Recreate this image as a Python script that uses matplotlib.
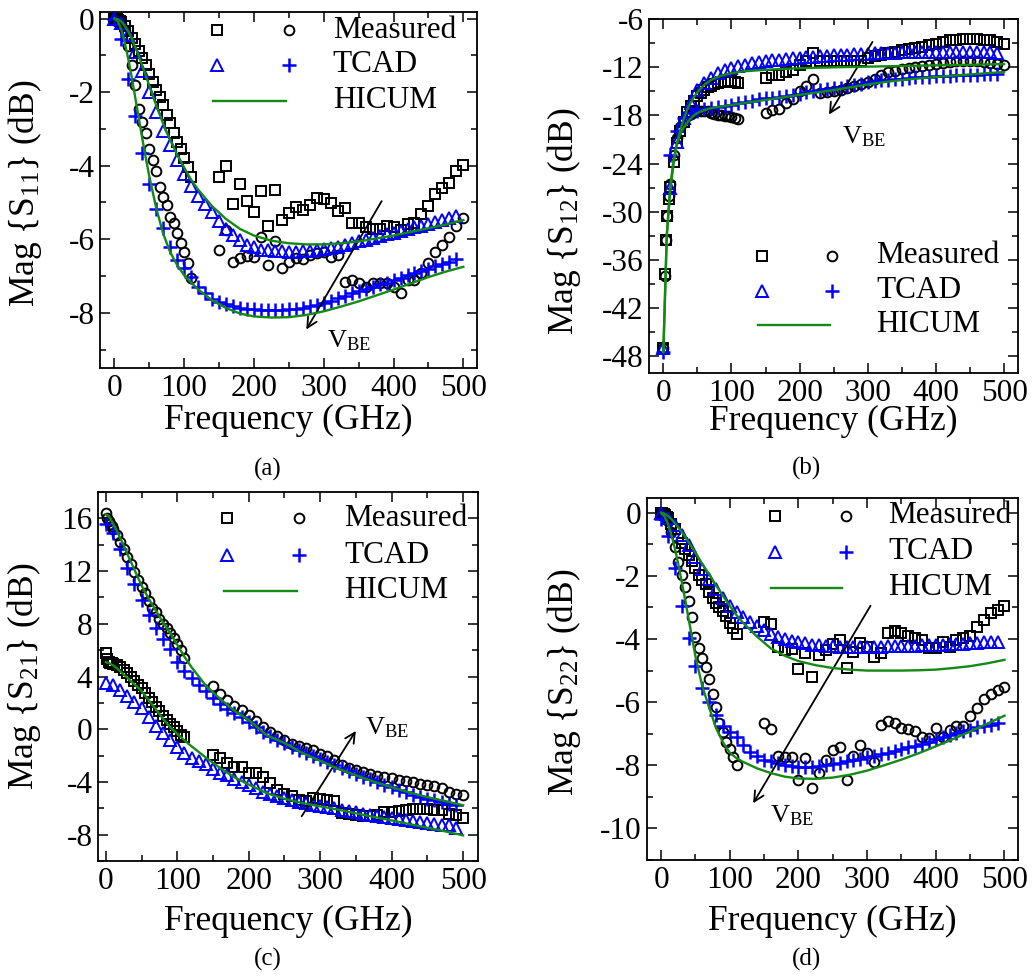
import numpy as np
import matplotlib
matplotlib.use("Agg")
import matplotlib.pyplot as plt
from matplotlib.ticker import MultipleLocator

plt.rcParams['font.family'] = ['Liberation Serif', 'DejaVu Serif']
plt.rcParams['mathtext.fontset'] = 'custom'
plt.rcParams['mathtext.rm'] = 'Liberation Serif'
plt.rcParams['mathtext.it'] = 'Liberation Serif:italic'
plt.rcParams['axes.unicode_minus'] = False

# frequency grids (GHz)
f_meas_lo = [0, 2, 4, 6, 8, 10, 15, 20, 25, 30, 35, 40, 45, 50, 55, 60, 65, 70, 75, 80,
             85, 90, 95, 100, 105, 110]
f_meas_hi = list(range(150, 510, 10))
f_tcad = list(range(0, 500, 10))
f_hicum = [0, 5, 10, 15, 20, 25, 30, 35, 40, 45, 50, 60, 70, 80, 90, 100, 110, 120,
           140, 160, 180, 200, 225, 250, 275, 300, 325, 350, 375, 400, 425, 450, 475, 500]

# ---- (a) S11 ----
a_sq_lo = [0, -0.01, -0.02, -0.04, -0.07, -0.1, -0.2, -0.33, -0.52, -0.7, -0.88, -1.07, -1.25,
           -1.5, -1.72, -1.93, -2.12, -2.35, -2.63, -2.85, -3.1, -3.35, -3.55, -3.8, -4.05, -4.3]
a_ci_lo = [0, -0.02, -0.04, -0.08, -0.12, -0.15, -0.35, -0.75, -1.25, -1.8, -2.45, -2.8, -3.1,
           -3.55, -3.85, -4.15, -4.58, -4.85, -5.07, -5.39, -5.56, -5.82, -6.1, -6.35, -6.65, -7.05]
a_sq_hi = [-4.30, -4.01, -5.04, -4.50, -4.95, -5.25, -4.68, -5.64, -4.67, -5.48,
           -5.28, -5.12, -5.21, -5.07, -4.89, -4.92, -5.01, -5.23, -5.16, -5.55,
           -5.57, -5.66, -5.73, -5.73, -5.64, -5.68, -5.75, -5.59, -5.55, -5.32,
           -5.10, -4.77, -4.61, -4.47, -4.14, -3.99]
a_ci_hi = [-6.28, -5.75, -6.61, -6.5, -6.46, -6.48, -5.95, -6.70, -6.04, -6.79,
           -6.61, -6.52, -6.55, -6.42, -6.38, -6.35, -6.49, -6.43, -7.16, -7.11,
           -7.20, -7.31, -7.20, -7.18, -7.20, -7.31, -7.47, -7.11, -7.11, -6.93,
           -6.66, -6.34, -6.16, -5.95, -5.64, -5.43]
a_tcad_A = [0, -0.12, -0.45, -0.90, -1.42, -2.00, -2.55, -3.05, -3.45, -3.85,
            -4.23, -4.55, -4.83, -5.05, -5.26, -5.50, -5.72, -5.88, -6.02, -6.16,
            -6.22, -6.28, -6.30, -6.32, -6.33, -6.34, -6.34, -6.33, -6.32, -6.30,
            -6.27, -6.24, -6.20, -6.16, -6.11, -6.06, -6.02, -5.97, -5.92, -5.87,
            -5.82, -5.77, -5.72, -5.68, -5.63, -5.58, -5.53, -5.48, -5.43, -5.37]
a_tcad_B = [0, -0.55, -1.65, -2.65, -3.65, -4.50, -5.18, -5.70, -6.20, -6.57,
            -6.78, -7.04, -7.30, -7.47, -7.62, -7.71, -7.77, -7.82, -7.86, -7.89,
            -7.91, -7.92, -7.93, -7.93, -7.92, -7.91, -7.89, -7.86, -7.82, -7.78,
            -7.74, -7.68, -7.61, -7.54, -7.47, -7.41, -7.35, -7.29, -7.23, -7.18,
            -7.12, -7.05, -6.98, -6.92, -6.86, -6.80, -6.73, -6.67, -6.61, -6.55]
a_hicum_A = [0, -0.02, -0.08, -0.2, -0.35, -0.55, -0.78, -1.02, -1.28, -1.55, -1.82,
             -2.36, -2.86, -3.30, -3.70, -4.05, -4.38, -4.65, -5.10, -5.45, -5.72, -5.90,
             -6.04, -6.11, -6.14, -6.14, -6.11, -6.06, -5.98, -5.90, -5.80, -5.70, -5.60, -5.48]
a_hicum_B = [0, -0.08, -0.3, -0.65, -1.1, -1.6, -2.15, -2.7, -3.25, -3.78, -4.28,
             -5.15, -5.85, -6.35, -6.7, -6.98, -7.18, -7.36, -7.66, -7.87, -8.02, -8.10,
             -8.13, -8.12, -8.06, -7.96, -7.83, -7.69, -7.53, -7.37, -7.20, -7.03, -6.88, -6.75]

# ---- (b) S12 ----
b_sq_lo = [-47.0, -37.8, -33.5, -30.6, -28.4, -26.9, -23.8, -21.5, -20.0, -18.8, -17.6, -16.8,
           -16.2, -15.6, -15.2, -14.8, -14.5, -14.3, -14.1, -13.95, -13.85, -13.8, -13.75,
           -13.75, -13.8, -13.95]
b_ci_lo = [-47.0, -38.0, -33.5, -30.6, -28.0, -26.5, -23.0, -20.8, -19.5, -18.6, -18.1, -17.85,
           -17.6, -17.5, -17.4, -17.4, -17.5, -17.65, -17.8, -17.9, -18.0, -18.05, -18.1,
           -18.15, -18.3, -18.5]
b_sq_hi = [-13.4, -13.0, -13.0, -12.6, -12.3, -11.7, -11.25, -10.2, -11.25, -11.2,
           -11.25, -11.2, -11.2, -11.25, -11.2, -10.8, -10.6, -10.45, -10.25, -10.05,
           -9.9, -9.75, -9.6, -9.45, -9.25, -9.05, -8.85, -8.65, -8.55, -8.5,
           -8.5, -8.5, -8.55, -8.6, -8.8, -9.1]
b_ci_hi = [-17.7, -17.3, -17.2, -16.45, -16.0, -15.0, -14.3, -13.5, -15.2, -15.1,
           -15.0, -14.85, -14.6, -14.35, -14.1, -13.8, -13.45, -13.0, -12.6, -12.45,
           -12.25, -12.1, -11.95, -11.85, -11.75, -11.6, -11.5, -11.35, -11.25, -11.2,
           -11.2, -11.25, -11.3, -11.45, -11.55, -11.75]
b_tcad_A = [-47.0, -27.0, -21.3, -18.3, -16.4, -14.9, -14.0, -13.3, -12.7, -12.4,
            -12.15, -11.9, -11.7, -11.5, -11.35, -11.25, -11.15, -11.05, -10.97, -10.9,
            -10.82, -10.75, -10.7, -10.63, -10.58, -10.53, -10.48, -10.44, -10.4, -10.36,
            -10.32, -10.29, -10.25, -10.22, -10.19, -10.16, -10.14, -10.12, -10.1, -10.08,
            -10.07, -10.06, -10.05, -10.05, -10.05, -10.06, -10.08, -10.1, -10.15, -10.22]
b_tcad_B = [-47.5, -23.0, -20.0, -18.3, -17.7, -17.4, -17.2, -17.1, -16.95, -16.8,
            -16.65, -16.5, -16.3, -16.15, -16.0, -15.85, -15.78, -15.7, -15.6, -15.45,
            -15.3, -15.15, -15.0, -14.85, -14.75, -14.65, -14.55, -14.4, -14.25, -14.1,
            -13.9, -13.75, -13.65, -13.57, -13.5, -13.42, -13.35, -13.28, -13.22, -13.17,
            -13.12, -13.08, -13.04, -13.0, -12.98, -12.95, -12.92, -12.9, -12.87, -12.82]
b_hicum_A = [-47.5, -33.0, -27.5, -24.0, -21.5, -19.8, -18.4, -17.3, -16.4, -15.7, -15.1,
             -14.2, -13.6, -13.2, -12.95, -12.75, -12.6, -12.5, -12.38, -12.28, -12.2, -12.13,
             -12.07, -12.02, -11.97, -11.93, -11.89, -11.85, -11.81, -11.77, -11.73, -11.69,
             -11.65, -11.6]
b_hicum_B = [-47.5, -33.0, -27.0, -23.5, -21.5, -20.3, -19.5, -18.9, -18.4, -18.0, -17.7,
             -17.35, -17.1, -16.95, -16.82, -16.7, -16.58, -16.45, -16.2, -15.95, -15.7, -15.45,
             -15.15, -14.85, -14.5, -14.15, -13.85, -13.6, -13.4, -13.22, -13.05, -12.9,
             -12.75, -12.6]

# ---- (c) S21 ----
c_sq_lo = [5.8, 5.3, 5.1, 5.05, 5.0, 4.95, 4.85, 4.7, 4.5, 4.3, 3.95, 3.65, 3.35, 3.1, 2.75,
           2.4, 2.05, 1.7, 1.35, 1.0, 0.7, 0.4, 0.15, -0.15, -0.4, -0.6]
c_ci_lo = [16.4, 16.0, 15.8, 15.6, 15.4, 15.2, 14.7, 14.2, 13.7, 13.1, 12.5, 11.9, 11.3, 10.8,
           10.3, 9.7, 9.2, 8.9, 8.4, 8.0, 7.65, 7.3, 6.9, 6.5, 6.0, 5.4]
c_sq_hi = [-1.95, -2.2, -2.6, -2.85, -2.85, -3.3, -3.3, -3.65, -4.1, -4.6,
           -4.9, -5.1, -5.35, -5.45, -5.2, -5.3, -5.35, -5.45, -6.35, -6.4,
           -6.5, -6.6, -6.6, -6.5, -6.3, -6.25, -6.2, -6.1, -6.05, -6.02,
           -6.05, -6.1, -6.15, -6.4, -6.5, -6.75]
c_ci_hi = [3.3, 2.7, 2.2, 1.75, 1.45, 1.05, 0.6, 0.15, -0.2, -0.55,
           -0.85, -1.1, -1.25, -1.4, -1.6, -1.9, -2.02, -2.3, -2.7, -2.95,
           -3.1, -3.25, -3.42, -3.52, -3.62, -3.7, -3.85, -3.92, -4.0, -4.12,
           -4.2, -4.33, -4.43, -4.75, -4.88, -5.0]
c_tcad_A = [3.5, 3.35, 2.95, 2.55, 2.1, 1.6, 0.9, 0.25, -0.3, -0.85,
            -1.35, -1.78, -2.15, -2.4, -2.65, -3.05, -3.3, -3.5, -3.78, -4.02,
            -4.26, -4.47, -4.74, -4.9, -5.06, -5.18, -5.35, -5.5, -5.63, -5.74,
            -5.85, -5.93, -5.99, -6.1, -6.23, -6.3, -6.4, -6.48, -6.55, -6.63,
            -6.72, -6.8, -6.9, -6.97, -7.04, -7.11, -7.17, -7.24, -7.3, -7.5]
c_tcad_B = [15.6, 14.9, 13.7, 12.2, 11.0, 9.8, 8.7, 7.7, 6.85, 6.05,
            5.1, 4.45, 3.9, 3.35, 2.9, 2.4, 1.9, 1.55, 1.2, 0.94,
            0.55, 0.18, -0.18, -0.48, -0.8, -1.03, -1.33, -1.57, -1.78, -2.03,
            -2.25, -2.5, -2.74, -2.97, -3.2, -3.42, -3.63, -3.8, -3.98, -4.2,
            -4.42, -4.62, -4.78, -4.96, -5.14, -5.28, -5.4, -5.52, -5.65, -5.77]
c_hicum_A = [5.1, 5.0, 4.85, 4.65, 4.4, 4.15, 3.9, 3.65, 3.4, 3.15, 2.9,
             2.2, 1.5, 0.8, 0.15, -0.35, -0.85, -1.3, -2.15, -2.95, -3.65, -4.2,
             -4.85, -5.28, -5.6, -5.85, -6.1, -6.38, -6.65, -6.92, -7.2, -7.48, -7.75, -8.05]
c_hicum_B = [16.3, 16.1, 15.6, 15.1, 14.5, 13.95, 13.3, 12.7, 12.1, 11.5, 10.9,
             9.9, 9.0, 8.1, 7.3, 6.4, 5.5, 4.7, 3.3, 2.3, 1.4, 0.7,
             -0.45, -1.05, -1.8, -2.4, -3.0, -3.5, -3.98, -4.4, -4.8, -5.15, -5.45, -5.77]

# ---- (d) S22 ----
d_sq_lo = [0, -0.02, -0.05, -0.08, -0.12, -0.18, -0.35, -0.5, -0.75, -0.95, -1.15, -1.33, -1.52,
           -1.75, -1.97, -2.12, -2.27, -2.5, -2.7, -2.85, -2.98, -3.12, -3.28, -3.5, -3.65, -3.85]
d_ci_lo = [0, -0.02, -0.05, -0.08, -0.13, -0.25, -0.6, -1.1, -1.55, -1.97, -2.35, -2.78, -3.3,
           -3.95, -4.28, -4.6, -4.88, -5.28, -5.75, -6.15, -6.65, -6.95, -7.25, -7.5, -7.75, -8.0]
d_sq_hi = [-3.45, -3.52, -4.25, -4.35, -4.32, -4.95, -4.45, -5.2, -4.5, -4.35,
           -4.16, -4.03, -4.93, -4.4, -4.14, -4.24, -4.56, -4.45, -3.8, -3.74,
           -3.82, -3.92, -3.98, -4.03, -4.29, -4.3, -4.08, -4.24, -4.03, -3.98,
           -3.92, -3.61, -3.4, -3.19, -3.08, -2.95]
d_ci_hi = [-6.67, -6.86, -7.72, -7.75, -7.74, -8.48, -7.77, -8.72, -8.23, -7.83,
           -7.51, -7.41, -8.46, -7.72, -7.35, -7.62, -7.91, -6.72, -6.61, -6.65,
           -6.82, -6.86, -6.93, -7.09, -7.14, -6.82, -7.09, -6.88, -6.77, -6.77,
           -6.43, -6.19, -5.91, -5.74, -5.6, -5.51]
d_tcad_A = [0, -0.17, -0.38, -0.71, -1.03, -1.41, -1.79, -2.11, -2.43, -2.7,
            -2.95, -3.13, -3.3, -3.46, -3.6, -3.72, -3.84, -3.93, -4.0, -4.06,
            -4.1, -4.14, -4.18, -4.2, -4.22, -4.23, -4.24, -4.25, -4.25, -4.25,
            -4.25, -4.24, -4.24, -4.23, -4.23, -4.22, -4.22, -4.21, -4.2, -4.2,
            -4.19, -4.18, -4.17, -4.16, -4.15, -4.14, -4.12, -4.11, -4.09, -4.08]
d_tcad_B = [-0.2, -0.75, -1.75, -2.95, -3.98, -4.85, -5.55, -6.0, -6.42, -6.75,
            -6.95, -7.1, -7.35, -7.58, -7.7, -7.82, -7.88, -7.93, -7.98, -8.02,
            -8.04, -8.04, -8.04, -8.02, -7.99, -7.95, -7.92, -7.88, -7.84, -7.8,
            -7.75, -7.7, -7.65, -7.6, -7.54, -7.48, -7.43, -7.38, -7.32, -7.25,
            -7.17, -7.11, -7.05, -6.98, -6.92, -6.87, -6.8, -6.76, -6.71, -6.67]
d_hicum_A = [0, -0.03, -0.1, -0.2, -0.32, -0.46, -0.6, -0.76, -0.93, -1.1, -1.27,
             -1.62, -1.95, -2.3, -2.63, -2.95, -3.25, -3.5, -3.93, -4.3, -4.53, -4.7,
             -4.83, -4.92, -4.97, -5.0, -5.0, -5.0, -4.99, -4.97, -4.92, -4.86, -4.77, -4.66]
d_hicum_B = [0, -0.12, -0.35, -0.7, -1.12, -1.62, -2.18, -2.75, -3.35, -3.95, -4.55,
             -5.5, -6.17, -6.82, -7.27, -7.6, -7.78, -7.9, -8.1, -8.25, -8.36, -8.42,
             -8.43, -8.39, -8.3, -8.17, -8.0, -7.82, -7.62, -7.4, -7.17, -6.93, -6.68, -6.43]

BLUE = '#0000ff'
GREEN = '#138a13'
MS = 7
MEW = 1.4


def draw_panel(ax, sq, ci, tA, tB, hA, hB):
    """Measured (black, hollow), TCAD (blue), HICUM (green line)."""
    sq_lo, sq_hi = sq
    ci_lo, ci_hi = ci
    for f, y in ((f_meas_lo, sq_lo), (f_meas_hi, sq_hi)):
        ax.plot(f, y, 's', ms=MS, mfc='none', mec='black', mew=MEW, zorder=2)
    for f, y in ((f_meas_lo, ci_lo), (f_meas_hi, ci_hi)):
        ax.plot(f, y, 'o', ms=MS, mfc='none', mec='black', mew=MEW, zorder=2)
    ax.plot(f_tcad, tA, '^', ms=MS + 1, mfc='none', mec=BLUE, mew=MEW, zorder=3)
    ax.plot(f_tcad, tB, '+', ms=MS + 3, mec=BLUE, mew=1.8, zorder=3)
    ax.plot(f_hicum, hA, '-', color=GREEN, lw=1.7, zorder=4)
    ax.plot(f_hicum, hB, '-', color=GREEN, lw=1.7, zorder=4)


def fake_legend(ax, x1, x2, xt, ys, lx):
    """Hand-placed key, like the original (axes fraction coords)."""
    tr = ax.transAxes
    ax.plot([x1], [ys[0]], 's', ms=MS, mfc='none', mec='black', mew=MEW, transform=tr)
    ax.plot([x2], [ys[0]], 'o', ms=MS, mfc='none', mec='black', mew=MEW, transform=tr)
    ax.plot([x1], [ys[1]], '^', ms=MS + 1, mfc='none', mec=BLUE, mew=MEW, transform=tr)
    ax.plot([x2], [ys[1]], '+', ms=MS + 3, mec=BLUE, mew=1.8, transform=tr)
    ax.plot(lx, [ys[2], ys[2]], '-', color=GREEN, lw=1.7, transform=tr)
    for y, t in zip(ys, ['Measured', 'TCAD', 'HICUM']):
        ax.text(xt, y, t, transform=tr, fontsize=22.5, ha='left', va='center')


def style_axes(ax, xlim, ylim, ymaj, ymin, ylab, ylab_xy, xlab_y):
    ax.set_xlim(*xlim)
    ax.set_ylim(*ylim)
    ax.xaxis.set_major_locator(MultipleLocator(100))
    ax.xaxis.set_minor_locator(MultipleLocator(50))
    ax.yaxis.set_major_locator(MultipleLocator(ymaj))
    ax.yaxis.set_minor_locator(MultipleLocator(ymin))
    ax.tick_params(which='both', direction='in', top=True, right=True, labelsize=22.5, pad=4)
    ax.tick_params(which='major', length=7, width=1.1)
    ax.tick_params(which='minor', length=4, width=1.1)
    for s in ax.spines.values():
        s.set_linewidth(1.3)
    ax.set_xlabel('Frequency (GHz)', fontsize=25.5)
    ax.xaxis.set_label_coords(0.5, xlab_y)
    ax.set_ylabel(ylab, fontsize=25.5)
    ax.yaxis.set_label_coords(*ylab_xy)


fig = plt.figure(figsize=(10.33, 9.76), dpi=100)

# (a)
ax = fig.add_axes([0.0968, 0.6230, 0.3650, 0.3648])
draw_panel(ax, (a_sq_lo, a_sq_hi), (a_ci_lo, a_ci_hi), a_tcad_A, a_tcad_B, a_hicum_A, a_hicum_B)
style_axes(ax, (-20.5, 519.6), (-9.5, 0.18), 2, 1, 'Mag {S$_{11}$} (dB)', (-0.149, 0.49), -0.10)
fake_legend(ax, 0.31, 0.501, 0.617, [0.949, 0.851, 0.751], [0.30, 0.493])
ax.annotate('', xy=(273, -8.52), xytext=(385, -4.9),
            arrowprops=dict(arrowstyle='->', color='black', lw=1.3, mutation_scale=18))
ax.text(305, -8.75, 'V$_{\\rm BE}$', fontsize=19, ha='left', va='center')

# (b)
ax = fig.add_axes([0.6283, 0.6178, 0.3569, 0.3627])
draw_panel(ax, (b_sq_lo, b_sq_hi), (b_ci_lo, b_ci_hi), b_tcad_A, b_tcad_B, b_hicum_A, b_hicum_B)
style_axes(ax, (-21, 520), (-50.1, -6), 6, 3, 'Mag {S$_{12}$} (dB)', (-0.179, 0.43), -0.09)
fake_legend(ax, 0.307, 0.497, 0.616, [0.331, 0.232, 0.136], [0.296, 0.491])
ax.annotate('', xy=(241, -18.2), xytext=(309, -8.55),
            arrowprops=dict(arrowstyle='->', color='black', lw=1.3, mutation_scale=18))
ax.text(262, -20.6, 'V$_{\\rm BE}$', fontsize=19, ha='left', va='center')

# (c)
ax = fig.add_axes([0.0949, 0.1178, 0.3679, 0.3781])
draw_panel(ax, (c_sq_lo, c_sq_hi), (c_ci_lo, c_ci_hi), c_tcad_A, c_tcad_B, c_hicum_A, c_hicum_B)
style_axes(ax, (-11, 521), (-10, 18), 4, 2, 'Mag {S$_{21}$} (dB)', (-0.145, 0.5), -0.12)
fake_legend(ax, 0.34, 0.53, 0.647, [0.929, 0.829, 0.732], [0.331, 0.524])
ax.annotate('', xy=(352, 0.05), xytext=(272, -6.78),
            arrowprops=dict(arrowstyle='->', color='black', lw=1.3, mutation_scale=18))
ax.text(363, 0.1, 'V$_{\\rm BE}$', fontsize=19, ha='left', va='center')

# (d)
ax = fig.add_axes([0.6260, 0.1189, 0.3597, 0.3706])
draw_panel(ax, (d_sq_lo, d_sq_hi), (d_ci_lo, d_ci_hi), d_tcad_A, d_tcad_B, d_hicum_A, d_hicum_B)
style_axes(ax, (-21, 520), (-11, 0.46), 2, 1, 'Mag {S$_{22}$} (dB)', (-0.171, 0.49), -0.124)
fake_legend(ax, 0.345, 0.536, 0.65, [0.951, 0.852, 0.753], [0.334, 0.526])
ax.annotate('', xy=(132, -9.28), xytext=(307, -2.87),
            arrowprops=dict(arrowstyle='->', color='black', lw=1.3, mutation_scale=18))
ax.text(159, -9.6, 'V$_{\\rm BE}$', fontsize=19, ha='left', va='center')

for lbl, x, y in [('(a)', 0.259, 0.519), ('(b)', 0.781, 0.52),
                  ('(c)', 0.259, 0.0174), ('(d)', 0.781, 0.0174)]:
    fig.text(x, y, lbl, fontsize=18, ha='center', va='center')

fig.savefig('out.png', dpi=100)
